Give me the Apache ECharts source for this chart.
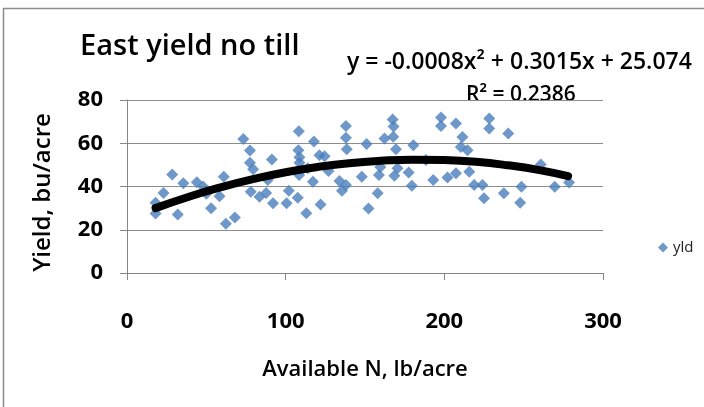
<!DOCTYPE html>
<html>
<head>
<meta charset="utf-8">
<script src="https://cdn.jsdelivr.net/npm/echarts@6/dist/echarts.min.js"></script>
<style>html,body{margin:0;padding:0;background:#fff;}#c{width:704px;height:407px;}</style>
</head>
<body>
<div id="c"></div>
<script>
var availN = [18,18,23,28.5,32,35.5,44,48,50,53,58.3,61,62.3,68,73.3,77.5,77.5,79.5,78,83.5,87.7,88.7,91.3,92,100.6,102,107.6,108.3,108,108.7,108.7,108.5,113.9,113,117.2,117.8,122,121.3,124.5,127,133.9,135.5,138,138,138,138.5,148,151,152.2,158,158.8,159.7,162.3,167.4,168,167.8,169.5,170.5,168.5,177.5,179.5,180.5,188.4,193,197.9,197.9,202,207.3,207.3,211.4,210.4,214.6,215.7,218.8,224,225,228.3,228.3,237.5,240.3,248.6,247.8,260.8,269.6,278.6];
var yld = [32.5,27.5,37,45.5,27,41.5,42,40,36.7,30,35.5,44.5,22.8,25.7,62,56.7,51,48,37.6,35.3,37,43,52.5,32.3,32.3,38,34.8,65.5,56.8,53.5,51,45.3,48.4,27.6,42.2,60.8,31.7,54.5,54,47.2,42.6,38,40.7,68,62.5,57.2,44.5,59.6,29.8,36.9,45.3,49,62.2,71,67.8,63,57.2,48.4,45,46.5,40.3,59.1,52.2,43,71.9,68,44.2,46.1,69.1,62.9,58.3,56.8,46.8,40.7,40.7,34.6,71.4,66.8,36.9,64.5,39.9,32.5,50.2,39.9,41.9];
var trendN = [18,40,60,80,100,120,140,160,180,200,220,240,260,278];
var trendY = [30,35.5,39.8,43.5,46.6,49,50.8,51.9,52.4,52.2,51.4,49.8,47.6,44.8];
var xTicks = [0,100,200,300];
var yTicks = [0,20,40,60,80];
var titleText = 'East yield no till';
var eqText = 'y = -0.0008x² + 0.3015x + 25.074';
var r2Text = 'R² = 0.2386';
var seriesName = 'yld';

var FONT = '"Open Sans", "Noto Sans", sans-serif';
var chart = echarts.init(document.getElementById('c'), null, {renderer:'canvas'});
var pts = availN.map(function(x,i){return [x, yld[i]];});
var tpts = trendN.map(function(x,i){return [x, trendY[i]];});
chart.setOption({
  animation:false,
  backgroundColor:'#fff',
  grid:{left:127,right:101,top:100,bottom:134},
  title:{text:titleText,left:75,top:27,textStyle:{fontFamily:FONT,fontSize:29,fontWeight:600,color:'#000'}},
  legend:{data:[{name:seriesName,icon:'diamond'}],left:653,top:235,itemWidth:10,itemHeight:10,itemGap:3,
    textStyle:{fontFamily:FONT,fontSize:15,color:'#222'}},
  graphic:[
    {type:'rect',shape:{x:3.5,y:8.5,width:800,height:500},style:{fill:'none',stroke:'#8c8c8c',lineWidth:1.5},silent:true},
    {type:'text',left:347,top:51,style:{text:eqText,fontFamily:FONT,fontSize:23,fontWeight:600,fill:'#000'}},
    {type:'text',left:466,top:85,style:{text:r2Text,fontFamily:FONT,fontSize:21,fontWeight:600,fill:'#000'}}
  ],
  xAxis:{type:'value',min:xTicks[0],max:xTicks[xTicks.length-1],interval:100,
    name:'Available N, lb/acre',nameLocation:'middle',nameGap:86,
    nameTextStyle:{fontFamily:FONT,fontSize:22,fontWeight:600,color:'#000'},
    axisLine:{show:true,lineStyle:{color:'#868686',width:1}},
    axisTick:{show:true,length:7,lineStyle:{color:'#868686'}},
    axisLabel:{margin:38,fontFamily:FONT,fontSize:22,fontWeight:'bold',color:'#000'},
    splitLine:{show:false}},
  yAxis:{type:'value',min:yTicks[0],max:yTicks[yTicks.length-1],interval:20,
    name:'Yield, bu/acre',nameLocation:'middle',nameGap:72,nameRotate:90,
    nameTextStyle:{fontFamily:FONT,fontSize:24,fontWeight:600,color:'#000',padding:[0,0,0,-12]},
    axisLine:{show:true,lineStyle:{color:'#868686',width:1}},
    axisTick:{show:true,length:7,lineStyle:{color:'#868686'}},
    axisLabel:{margin:24,fontFamily:FONT,fontSize:22,fontWeight:'bold',color:'#000'},
    splitLine:{show:true,lineStyle:{color:'#8c8c8c',width:1}}},
  series:[
    {name:seriesName,type:'scatter',symbol:'diamond',symbolSize:12,data:pts,
      itemStyle:{color:'#4a7ebb'}},
    {name:'trend',type:'line',data:tpts,smooth:true,showSymbol:false,symbol:'none',
      lineStyle:{color:'#000',width:8,cap:'round'},z:5}
  ]
});
</script>
</body>
</html>
